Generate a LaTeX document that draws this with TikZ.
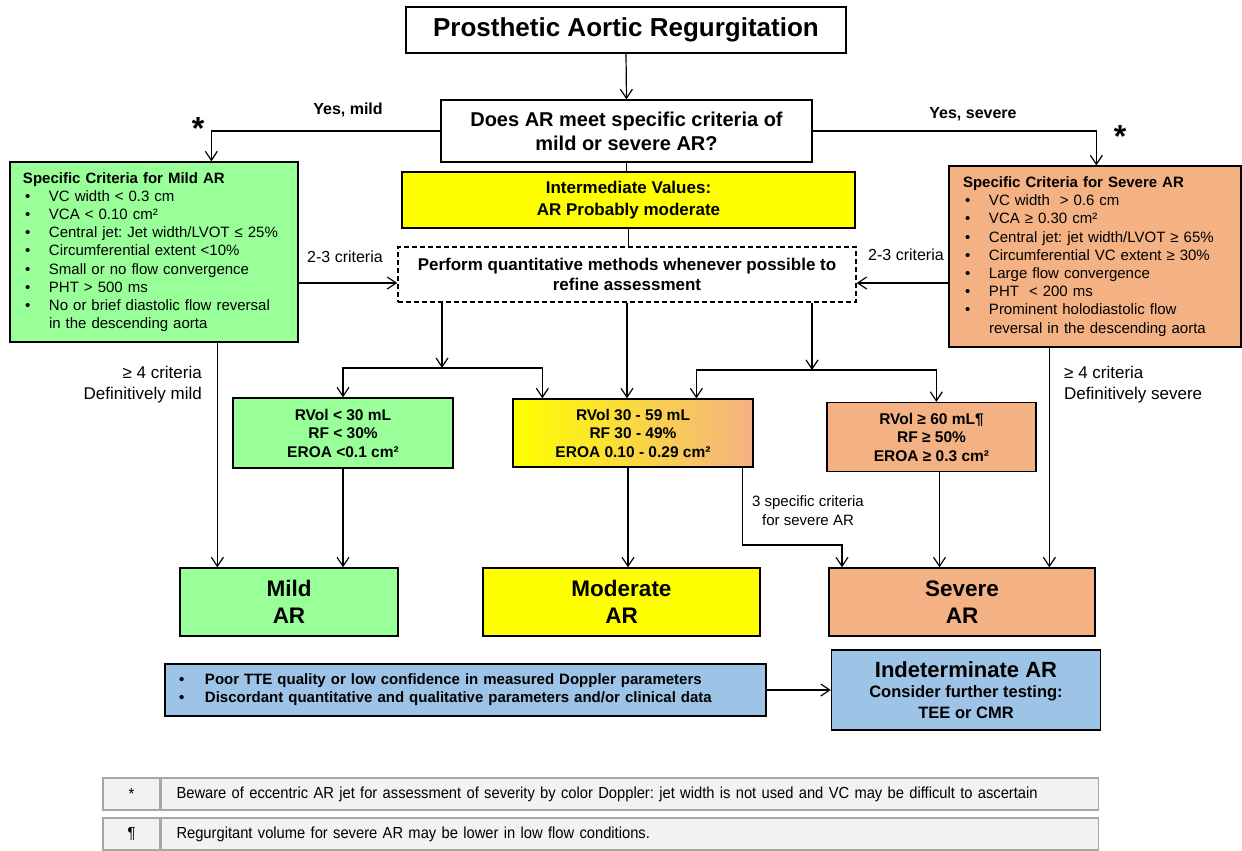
\documentclass[tikz,border=0pt]{standalone}
\usepackage{fontspec}
\setmainfont{Liberation Sans}
\newfontfamily\narrowfont[FakeStretch=0.92]{Liberation Sans}
\usetikzlibrary{arrows.meta,positioning}
\definecolor{mildgreen}{RGB}{153,255,153}
\definecolor{sevsalmon}{RGB}{244,177,131}
\definecolor{modyellow}{RGB}{255,255,0}
\definecolor{indblue}{RGB}{157,195,230}
\definecolor{fngray}{RGB}{242,242,242}
\definecolor{fnline}{RGB}{166,166,166}
\newcommand{\critem}[1]{\makebox[26pt][l]{\hspace{2pt}\textbullet}#1}
\frenchspacing
\tikzset{
  box/.style={draw, line width=1.3pt, inner sep=0pt, align=center},
  critbox/.style={box, align=left, inner xsep=13pt, font=\fontsize{15}{18.2}\selectfont},
  quantbox/.style={box, font=\bfseries\fontsize{15.5}{18.5}\selectfont},
  endbox/.style={box, minimum height=68, font=\bfseries\fontsize{22.5}{27}\selectfont},
  lbl/.style={inner sep=0pt, font=\fontsize{16}{20}\selectfont},
  fncell/.style={draw=fnline, fill=fngray, line width=1.5pt, minimum height=32, inner sep=0pt, font=\narrowfont\fontsize{16}{18}\selectfont},
  arr/.style={->, >={Straight Barb[length=9pt,width=12pt]}, line width=1.2pt},
  link/.style={line width=1.2pt},
}
\begin{document}
\begin{tikzpicture}[x=1pt,y=-1pt]
\useasboundingbox (0,0) rectangle (1242,851);

% top of the chart
\node[box, minimum width=440, minimum height=46, font=\bfseries\fontsize{26}{31}\selectfont] (title) at (626,30) {Prosthetic Aortic Regurgitation};
\node[box, minimum width=371, minimum height=62, font=\bfseries\fontsize{20}{24}\selectfont] (question) at (626.5,131) {Does AR meet specific criteria of\\mild or severe AR?};
\node[box, fill=modyellow, minimum width=453, minimum height=56, font=\bfseries\fontsize{17}{22}\selectfont] (inter) at (628.5,200) {Intermediate Values:\\AR Probably moderate};
\node[box, dash pattern=on 5pt off 3pt, minimum width=458, minimum height=55, font=\bfseries\fontsize{17}{20}\selectfont] (perform) at (627,274.5) {Perform quantitative methods whenever possible to\\refine assessment};

% criteria boxes
\node[critbox, fill=mildgreen, minimum width=288, minimum height=180, text width=262] (mildcrit) at (154,252) {%
  \textbf{Specific Criteria for Mild AR}\\
  \critem{VC width < 0.3 cm}\\
  \critem{VCA < 0.10 cm²}\\
  \critem{Central jet: Jet width/LVOT ≤ 25\%}\\
  \critem{Circumferential extent <10\%}\\
  \critem{Small or no flow convergence}\\
  \critem{PHT > 500 ms}\\
  \critem{No or brief diastolic flow reversal}\\
  \hspace*{26pt}in the descending aorta};
\node[critbox, fill=sevsalmon, inner xsep=14pt, minimum width=292, minimum height=181, text width=264] (sevcrit) at (1095,256.5) {%
  \textbf{Specific Criteria for Severe AR}\\
  \critem{VC width~ > 0.6 cm}\\
  \critem{VCA ≥ 0.30 cm²}\\
  \critem{Central jet: jet width/LVOT ≥ 65\%}\\
  \critem{Circumferential VC extent ≥ 30\%}\\
  \critem{Large flow convergence}\\
  \critem{PHT~ < 200 ms}\\
  \critem{Prominent holodiastolic flow}\\
  \hspace*{26pt}reversal in the descending aorta};

% quantitative boxes
\node[quantbox, fill=mildgreen, minimum width=220, minimum height=70] (qmild) at (343,433) {RVol < 30 mL\\RF < 30\%\\EROA <0.1 cm²};
\node[quantbox, left color=modyellow, right color=sevsalmon, minimum width=240, minimum height=68] (qmod) at (633,433) {RVol 30 - 59 mL\\RF 30 - 49\%\\EROA 0.10 - 0.29 cm²};
\node[quantbox, fill=sevsalmon, minimum width=209, minimum height=69] (qsev) at (931.5,437) {RVol ≥ 60 mL¶\\RF ≥ 50\%\\EROA ≥ 0.3 cm²};

% grades
\node[endbox, fill=mildgreen, minimum width=218] (mildar) at (289,602) {Mild\\AR};
\node[endbox, fill=modyellow, minimum width=277] (modar) at (621.5,602) {Moderate\\AR};
\node[endbox, fill=sevsalmon, minimum width=266] (sevar) at (962,602) {Severe\\AR};

% indeterminate
\node[box, fill=indblue, align=left, minimum width=601, minimum height=52, inner xsep=14pt, text width=573, font=\bfseries\fontsize{15}{18}\selectfont] (poor) at (465.5,690) {%
  \makebox[26pt][l]{\textbullet}Poor TTE quality or low confidence in measured Doppler parameters\\
  \makebox[26pt][l]{\textbullet}Discordant quantitative and qualitative parameters and/or clinical data};
\node[box, fill=indblue, minimum width=269, minimum height=80, font=\bfseries\fontsize{16.5}{20.5}\selectfont] (indet) at (966,690) {{\fontsize{22}{23}\selectfont Indeterminate AR}\\Consider further testing:\\TEE or CMR};

% labels
\node[lbl, font=\bfseries\fontsize{16}{20}\selectfont] (yesmild) at (348,110) {Yes, mild};
\node[lbl, font=\bfseries\fontsize{16}{20}\selectfont] (yessev) at (973,114) {Yes, severe};
\node[lbl, font=\bfseries\fontsize{32}{32}\selectfont] (starl) at (198,128) {*};
\node[lbl, font=\bfseries\fontsize{32}{32}\selectfont] (starr) at (1120,136) {*};
\node[lbl] (twol) at (345,257) {2-3 criteria};
\node[lbl] (twor) at (906,255) {2-3 criteria};
\node[lbl, align=right, anchor=east, font=\fontsize{17}{21}\selectfont] (fourl) at (202,385) {≥ 4 criteria\\Definitively mild};
\node[lbl, align=left, anchor=west, font=\fontsize{17}{21}\selectfont] (fourr) at (1064,385) {≥ 4 criteria\\Definitively severe};
\node[lbl, align=center, font=\fontsize{15}{19}\selectfont] (three) at (808,511) {3 specific criteria\\for severe AR};

% connectors
\draw[arr] (title.south) -- (question.north);
\draw[arr] (question.west) -| ([xshift=202pt]mildcrit.north west);
\draw[arr] (question.east) -| ([xshift=148pt]sevcrit.north west);
\draw[link] (question.south) -- (question.south |- inter.north);
\draw[link] (inter.south) -- (inter.south |- perform.north);
\draw[arr] (mildcrit.east |- 0,283) -- (perform.west |- 0,283);
\draw[arr] (sevcrit.west |- 0,283) -- (perform.east |- 0,283);
\coordinate (jl) at (442,368);
\coordinate (jr) at (812,370);
\draw[arr] (perform.south -| jl) -- (jl);
\draw[arr] (jl) -| (qmild.north);
\draw[arr] (jl) -| ([xshift=30pt]qmod.north west);
\draw[arr] (perform.south) -- (perform.south |- qmod.north);
\draw[arr] (perform.south -| jr) -- (jr);
\draw[arr] (jr) -| ([xshift=184pt]qmod.north west);
\draw[arr] (jr) -| ([xshift=110pt]qsev.north west);
\draw[arr] ([xshift=208pt]mildcrit.south west) -- ([xshift=38pt]mildar.north west);
\draw[arr] (qmild.south) -- (qmild.south |- mildar.north);
\draw[arr] ([xshift=-5pt]qmod.south) -- ([xshift=-5pt]qmod.south |- modar.north);
\coordinate (bend) at (842,545);
\draw[arr] ([xshift=230pt]qmod.south west) |- (bend) -- (bend |- sevar.north);
\draw[arr] ([xshift=8pt]qsev.south) -- ([xshift=8pt]qsev.south |- sevar.north);
\draw[arr] ([xshift=101pt]sevcrit.south west) -- ([xshift=221pt]sevar.north west);
\draw[arr] (poor.east) -- (poor.east -| indet.west);

% footnotes
\node[fncell, minimum width=57] (fnakey) at (131.5,794) {*};
\node[fncell, minimum width=937, align=left, anchor=west, inner xsep=15pt, text width=907] (fnatext) at (fnakey.east) {Beware of eccentric AR jet for assessment of severity by color Doppler: jet width is not used and VC may be difficult to ascertain};
\node[fncell, minimum width=57] (fnbkey) at (131.5,834) {¶};
\node[fncell, minimum width=937, align=left, anchor=west, inner xsep=15pt, text width=907] (fnbtext) at (fnbkey.east) {Regurgitant volume for severe AR may be lower in low flow conditions.};
\end{tikzpicture}
\end{document}
